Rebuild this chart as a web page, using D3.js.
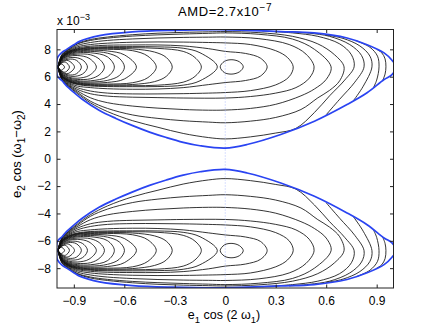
<!DOCTYPE html>
<html>
  <head>
    <meta charset="utf-8">
    <script src="https://d3js.org/d3.v7.min.js"></script>
    <style>
      body { margin: 0px; background: #fff; }
      text { font-family: "Liberation Sans", Arial, sans-serif; fill: #000; }
      .tick text { font-size: 12px; }
      .tick line { stroke: #222; }
    </style>
  </head>
  <body>
    <svg width="435" height="327"></svg>
    <script>
      // values; y is in units of 10^-3
      var xTicks = [-0.9, -0.6, -0.3, 0, 0.3, 0.6, 0.9];
      var yTicks = [-8, -6, -4, -2, 0, 2, 4, 6, 8];
      var apex = [-0.995, 6.7];

      // allowed region (upper lobe, the lower one is its mirror image)
      var boundary = [[-1.003,6.7],[-0.997,7.39],[-0.97,7.78],[-0.945,7.98],[-0.9,8.33],[-0.866,8.58],[-0.748,9.0],[-0.552,9.27],[-0.315,9.39],[-0.036,9.44],[0.131,9.39],[0.33,9.3],[0.528,9.2],[0.724,8.83],[0.843,8.34],[0.944,7.74],[0.991,7.2],[1.015,6.7],[0.991,6.15],[0.944,5.79],[0.843,4.82],[0.724,3.96],[0.53,2.74],[0.33,1.77],[0.13,1.04],[0,0.78],[-0.15,0.95],[-0.25,1.2],[-0.35,1.55],[-0.45,1.95],[-0.55,2.42],[-0.65,2.95],[-0.75,3.55],[-0.85,4.35],[-0.9,4.85],[-0.945,5.35],[-0.97,5.7],[-0.997,6.03]];

      // loops leaving the apex and coming back to it
      var leftLoops = [
        [[-0.975,6.93],[-0.955,6.7],[-0.975,6.47]],
        [[-0.975,6.98],[-0.95,7.06],[-0.926,6.7],[-0.95,6.34],[-0.975,6.42]],
        [[-0.97,7.06],[-0.935,7.18],[-0.896,6.7],[-0.935,6.23],[-0.97,6.36]],
        [[-0.97,7.12],[-0.93,7.28],[-0.885,7.2],[-0.855,6.7],[-0.885,6.21],[-0.93,6.13],[-0.97,6.3]],
        [[-0.97,7.17],[-0.93,7.38],[-0.88,7.38],[-0.84,7.15],[-0.819,6.7],[-0.84,6.27],[-0.88,6.05],[-0.93,6.05],[-0.97,6.25]],
        [[-0.97,7.22],[-0.93,7.48],[-0.88,7.55],[-0.81,7.35],[-0.766,6.7],[-0.81,6.08],[-0.88,5.89],[-0.93,5.96],[-0.97,6.21]],
        [[-0.97,7.26],[-0.93,7.55],[-0.88,7.65],[-0.8,7.6],[-0.745,7.25],[-0.718,6.7],[-0.745,6.17],[-0.8,5.85],[-0.88,5.8],[-0.93,5.9],[-0.97,6.17]],
        [[-0.97,7.3],[-0.93,7.61],[-0.88,7.74],[-0.8,7.75],[-0.7,7.45],[-0.659,6.7],[-0.7,5.99],[-0.8,5.7],[-0.88,5.71],[-0.93,5.84],[-0.97,6.13]],
        [[-0.97,7.33],[-0.93,7.66],[-0.88,7.81],[-0.8,7.85],[-0.7,7.72],[-0.63,7.35],[-0.599,6.7],[-0.63,6.08],[-0.7,5.73],[-0.8,5.61],[-0.88,5.65],[-0.93,5.79],[-0.97,6.1]],
        [[-0.97,7.36],[-0.93,7.7],[-0.88,7.87],[-0.8,7.93],[-0.7,7.88],[-0.6,7.6],[-0.528,6.7],[-0.6,5.83],[-0.7,5.58],[-0.8,5.53],[-0.88,5.59],[-0.93,5.75],[-0.97,6.07]],
        [[-0.97,7.39],[-0.93,7.74],[-0.88,7.92],[-0.8,8.0],[-0.7,8.0],[-0.55,7.9],[-0.46,7.5],[-0.41,6.7],[-0.46,5.93],[-0.55,5.56],[-0.7,5.46],[-0.8,5.47],[-0.88,5.54],[-0.93,5.71],[-0.97,6.04]],
        [[-0.97,7.41],[-0.93,7.77],[-0.88,7.96],[-0.8,8.05],[-0.7,8.07],[-0.55,8.03],[-0.42,7.8],[-0.35,7.4],[-0.315,6.7],[-0.35,6.03],[-0.42,5.64],[-0.55,5.43],[-0.7,5.4],[-0.8,5.42],[-0.88,5.5],[-0.93,5.68],[-0.97,6.02]],
        [[-0.97,7.43],[-0.93,7.8],[-0.88,8.0],[-0.8,8.1],[-0.7,8.13],[-0.55,8.12],[-0.4,8.07],[-0.25,7.85],[-0.18,7.4],[-0.142,6.7],[-0.18,6.02],[-0.25,5.6],[-0.4,5.38],[-0.55,5.34],[-0.7,5.34],[-0.8,5.37],[-0.88,5.47],[-0.93,5.65],[-0.97,6.0]],
        [[-0.97,7.45],[-0.93,7.83],[-0.88,8.04],[-0.8,8.15],[-0.7,8.19],[-0.55,8.2],[-0.4,8.18],[-0.25,8.08],[-0.15,7.75],[-0.047,6.72],[-0.15,5.7],[-0.25,5.38],[-0.4,5.28],[-0.55,5.27],[-0.7,5.28],[-0.8,5.32],[-0.88,5.43],[-0.93,5.62],[-0.97,5.98]]
      ];

      // small closed loop right of the saddle
      var innerLoop = [[-0.03,6.72],[-0.005,7.12],[0.04,7.24],[0.085,7.08],[0.107,6.72],[0.085,6.36],[0.04,6.19],[-0.005,6.3]];

      // loops around both centres, also through the apex
      var outerLoops = [
        [[-0.97,7.48],[-0.93,7.85],[-0.88,8.1],[-0.8,8.23],[-0.7,8.3],[-0.55,8.32],[-0.4,8.32],[-0.25,8.25],[-0.1,8.05],[0,7.85],[0.12,7.7],[0.21,7.35],[0.249,6.72],[0.21,6.05],[0.12,5.72],[0,5.57],[-0.1,5.42],[-0.25,5.2],[-0.4,5.1],[-0.55,5.08],[-0.7,5.12],[-0.8,5.2],[-0.88,5.32],[-0.93,5.56],[-0.97,5.94]],
        [[-0.97,7.52],[-0.93,7.9],[-0.88,8.18],[-0.8,8.35],[-0.7,8.45],[-0.55,8.52],[-0.4,8.54],[-0.25,8.53],[-0.1,8.5],[0,8.47],[0.15,8.35],[0.3,7.9],[0.37,7.4],[0.404,6.72],[0.38,6.0],[0.3,5.4],[0.15,4.98],[0,4.84],[-0.1,4.8],[-0.25,4.76],[-0.4,4.74],[-0.55,4.74],[-0.7,4.8],[-0.8,4.95],[-0.88,5.2],[-0.93,5.5],[-0.97,5.9]],
        [[-0.97,7.56],[-0.93,7.95],[-0.88,8.28],[-0.8,8.5],[-0.7,8.65],[-0.55,8.76],[-0.4,8.83],[-0.25,8.87],[-0.1,8.89],[0,8.9],[0.2,8.78],[0.38,8.35],[0.48,7.65],[0.528,6.72],[0.5,5.9],[0.42,5.2],[0.3,4.8],[0.15,4.55],[0,4.44],[-0.25,4.44],[-0.4,4.47],[-0.55,4.5],[-0.7,4.58],[-0.8,4.75],[-0.88,5.08],[-0.93,5.43],[-0.97,5.86]],
        [[-0.97,7.6],[-0.93,8.0],[-0.88,8.38],[-0.8,8.65],[-0.7,8.82],[-0.55,8.97],[-0.4,9.06],[-0.25,9.12],[-0.1,9.17],[0,9.2],[0.2,9.1],[0.4,8.75],[0.53,8.0],[0.629,6.72],[0.6,5.8],[0.53,5.1],[0.45,4.6],[0.3,3.98],[0.15,3.68],[0,3.56],[-0.1,3.55],[-0.25,3.6],[-0.4,3.7],[-0.55,3.85],[-0.7,4.1],[-0.8,4.45],[-0.88,4.97],[-0.93,5.37],[-0.97,5.82]],
        [[-0.97,7.63],[-0.93,8.04],[-0.88,8.42],[-0.8,8.72],[-0.7,8.9],[-0.55,9.07],[-0.4,9.18],[-0.25,9.24],[-0.1,9.28],[0,9.3],[0.2,9.22],[0.4,8.95],[0.55,8.4],[0.65,7.6],[0.706,6.72],[0.68,5.7],[0.62,5.0],[0.55,4.45],[0.45,3.6],[0.3,3.02],[0.15,2.75],[0,2.63],[-0.1,2.68],[-0.25,2.78],[-0.4,2.95],[-0.55,3.2],[-0.7,3.68],[-0.8,4.2],[-0.88,4.87],[-0.93,5.31],[-0.97,5.79]]
      ];

      // open pieces that end on the boundary
      var arcs = [
        [[-0.995,6.7],[-0.97,5.77],[-0.93,5.27],[-0.88,4.78],[-0.8,4.08],[-0.7,3.45],[-0.55,2.78],[-0.4,2.3],[-0.25,1.85],[-0.1,1.55],[0,1.45],[0.15,1.6],[0.3,1.88],[0.42,2.22],[0.53,3.38],[0.62,4.6],[0.71,5.75],[0.766,6.72],[0.75,7.6],[0.68,8.4],[0.55,8.95],[0.4,9.2],[0.22,9.35]],
        [[0.6,3.22],[0.68,4.35],[0.77,5.6],[0.825,6.72],[0.81,7.55],[0.74,8.35],[0.62,8.95],[0.5,9.18],[0.38,9.3]],
        [[0.762,4.25],[0.82,5.3],[0.872,6.72],[0.86,7.5],[0.8,8.25],[0.7,8.8],[0.6,9.05]],
        [[0.88,5.18],[0.9,5.75],[0.914,6.72],[0.905,7.5],[0.86,8.15],[0.78,8.62]],
        [[0.935,5.7],[0.95,6.2],[0.955,6.72],[0.95,7.3],[0.93,7.75],[0.9,8.0]]
      ];

      var boxL = 57, boxR = 393.5, boxT = 29.5, boxB = 288;

      var svg = d3.select("svg");

      var x = d3.scaleLinear().domain([-1, 1]).range([boxL, boxR]);
      var y = d3.scaleLinear().domain([-9.45, 9.45]).range([boxB, boxT]);

      svg.append("clipPath").attr("id", "box")
        .append("rect")
        .attr("x", boxL).attr("y", boxT)
        .attr("width", boxR - boxL).attr("height", boxB - boxT);

      var plot = svg.append("g").attr("clip-path", "url(#box)");

      function lineFor(sign, closed) {
        return d3.line()
          .x(function(d) { return x(d[0]); })
          .y(function(d) { return y(sign * d[1]); })
          .curve(closed ? d3.curveCatmullRomClosed.alpha(0.5) : d3.curveCatmullRom.alpha(0.5));
      }

      var throughApex = leftLoops.concat(outerLoops).map(function(p) {
        return [apex].concat(p, [apex]);
      });

      [1, -1].forEach(function(sign) {
        var g = plot.append("g")
          .attr("fill", "none")
          .attr("stroke", "#111")
          .attr("stroke-width", 0.85);

        g.selectAll(".loop")
          .data(throughApex.concat(arcs))
          .enter()
          .append("path")
          .attr("d", lineFor(sign, false));

        g.append("path").attr("d", lineFor(sign, true)(innerLoop));
      });

      // dotted line at zero
      plot.append("line")
        .attr("x1", x(0)).attr("x2", x(0))
        .attr("y1", boxT).attr("y2", boxB)
        .attr("stroke", "#9fb0ff")
        .attr("stroke-width", 0.8)
        .attr("stroke-dasharray", "1,2");

      [1, -1].forEach(function(sign) {
        plot.append("path")
          .attr("d", lineFor(sign, true)(boundary))
          .attr("fill", "none")
          .attr("stroke", "#2a44f2")
          .attr("stroke-width", 1.7);
      });

      // axes, MATLAB style ticks pointing in
      var fmtX = function(d) { return d === 0 ? "0" : d3.format(".1f")(d); };

      svg.append("g")
        .attr("transform", "translate(0," + boxB + ")")
        .call(d3.axisBottom(x).tickValues(xTicks).tickFormat(fmtX).tickSize(-3.5).tickPadding(8));
      svg.append("g")
        .attr("transform", "translate(0," + boxT + ")")
        .call(d3.axisTop(x).tickValues(xTicks).tickFormat("").tickSize(-3.5));
      svg.append("g")
        .attr("transform", "translate(" + boxL + ",0)")
        .call(d3.axisLeft(y).tickValues(yTicks).tickFormat(d3.format("d")).tickSize(-3.5).tickPadding(6));
      svg.append("g")
        .attr("transform", "translate(" + boxR + ",0)")
        .call(d3.axisRight(y).tickValues(yTicks).tickFormat("").tickSize(-3.5));

      svg.selectAll(".domain").remove();

      svg.append("rect")
        .attr("x", boxL).attr("y", boxT)
        .attr("width", boxR - boxL).attr("height", boxB - boxT)
        .attr("fill", "none")
        .attr("stroke", "#222")
        .attr("stroke-width", 1);

      function rich(sel, parts, small) {
        var shift = 0;
        parts.forEach(function(p) {
          var t = sel.append("tspan").text(p[0]);
          var want = p[1] === "sub" ? 3.5 : p[1] === "sup" ? -5 : 0;
          t.attr("dy", want - shift);
          if (p[1]) t.style("font-size", small);
          shift = want;
        });
      }

      var title = svg.append("text")
        .attr("x", 225).attr("y", 16)
        .attr("text-anchor", "middle")
        .style("font-size", "13px")
        .style("letter-spacing", "0.6px");
      rich(title, [["AMD=2.7x10", null], ["\u22127", "sup"]], "10px");

      var expo = svg.append("text")
        .attr("x", 57).attr("y", 25)
        .style("font-size", "12px");
      rich(expo, [["x 10", null], ["\u22123", "sup"]], "9px");

      var xlab = svg.append("text")
        .attr("x", 224).attr("y", 319)
        .attr("text-anchor", "middle")
        .style("font-size", "12.5px");
      rich(xlab, [["e", null], ["1", "sub"], [" cos (2 \u03c9", null], ["1", "sub"], [")", null]], "9.5px");

      var ylab = svg.append("text")
        .attr("transform", "translate(21,154) rotate(-90)")
        .attr("text-anchor", "middle")
        .style("font-size", "13px");
      rich(ylab, [["e", null], ["2", "sub"], [" cos (\u03c9", null], ["1", "sub"], ["\u2212\u03c9", null], ["2", "sub"], [")", null]], "10px");
    </script>
  </body>
</html>
